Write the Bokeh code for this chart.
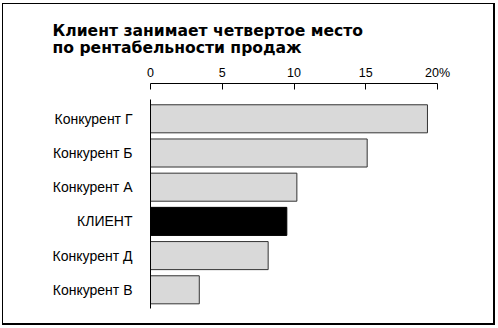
from bokeh.plotting import figure
from bokeh.models import Range1d, FixedTicker, LinearAxis
from bokeh.embed import file_html
from bokeh.resources import INLINE

# Data (top to bottom in the chart)
categories = ["Конкурент Г", "Конкурент Б", "Конкурент А", "КЛИЕНТ", "Конкурент Д", "Конкурент В"]
values = [19.3, 15.1, 10.2, 9.5, 8.2, 3.4]
highlight = "КЛИЕНТ"
x_ticks = [0, 5, 10, 15, 20]
x_tick_labels = ["0", "5", "10", "15", "20%"]
title_text = "Клиент занимает четвертое место\nпо рентабельности продаж"

n = len(categories)
ypos = [n - 1 - i for i in range(n)]  # top category gets highest position
fills = ["#000000" if c == highlight else "#d9d9d9" for c in categories]
lines = ["#000000" if c == highlight else "#333333" for c in categories]

FONT = "Liberation Sans"

frame_css = {
    "background": (
        "linear-gradient(#000,#000) 2px 3px / 1px 322px no-repeat, "
        "linear-gradient(#000,#000) 2px 3px / 492px 1px no-repeat, "
        "linear-gradient(#000,#000) 493px 3px / 2px 322px no-repeat, "
        "linear-gradient(#000,#000) 2px 323px / 493px 2px no-repeat, "
        "#ffffff"
    )
}

p = figure(width=498, height=328, output_backend="svg", toolbar_location=None,
           x_range=Range1d(0, 20), y_range=Range1d(-0.547, 6.032),
           x_axis_location=None, y_axis_location=None,
           min_border_left=150, min_border_right=61, min_border_top=83, min_border_bottom=20,
           styles=frame_css)
p.outline_line_color = None
p.xgrid.visible = False
p.ygrid.visible = False
p.background_fill_color = "white"
p.border_fill_color = None
p.border_fill_alpha = 0

p.hbar(y=ypos, right=values, left=0, height=0.82, fill_color=fills, line_color=lines, line_width=1)

# top axis
xa = LinearAxis(ticker=FixedTicker(ticks=x_ticks),
                major_label_overrides={t: l for t, l in zip(x_ticks, x_tick_labels)})
xa.major_tick_in = 6
xa.major_tick_out = 0
xa.minor_tick_in = 0
xa.minor_tick_out = 0
xa.axis_line_color = "black"
xa.major_tick_line_color = "black"
xa.major_label_text_font = FONT
xa.major_label_text_font_size = "12.5px"
xa.major_label_text_color = "black"
xa.major_label_standoff = 4
p.add_layout(xa, "above")

# left axis with category labels
ya = LinearAxis(ticker=FixedTicker(ticks=ypos),
                major_label_overrides={y: c for y, c in zip(ypos, categories)},
                bounds=(-0.547, 5.56))
ya.major_tick_in = 0
ya.major_tick_out = 0
ya.minor_tick_in = 0
ya.minor_tick_out = 0
ya.axis_line_color = "black"
ya.major_label_text_font = FONT
ya.major_label_text_font_size = "14px"
ya.major_label_text_color = "black"
ya.major_label_standoff = 18
p.add_layout(ya, "left")

# title
p.title.text = title_text
p.title.align = "left"
p.title.offset = 52 - 150
p.title.text_font = "DejaVu Sans"
p.title.text_font_style = "bold"
p.title.text_font_size = "15.6px"
p.title.text_line_height = 0.96
p.title.text_color = "black"
p.title.standoff = 11

open("out.html", "w").write(file_html(p, INLINE))
